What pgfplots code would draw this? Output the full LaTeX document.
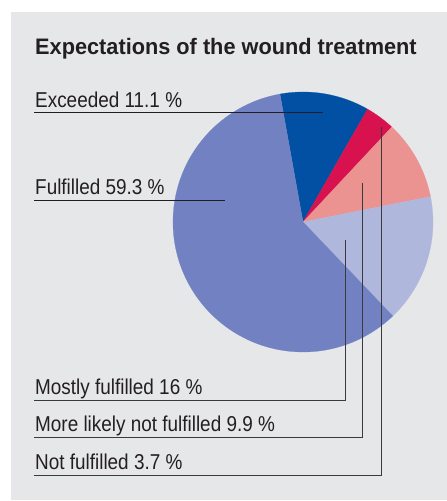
\documentclass[border=0pt]{standalone}
\usepackage{pgfplots}
\usepackage{pgfplotstable}
\pgfplotsset{compat=1.18}
\usepackage{fontspec}
\setmainfont{Liberation Sans}
\newfontfamily\labfont[FakeStretch=0.88]{Liberation Sans}
\newfontfamily\titfont[FakeStretch=0.97]{Liberation Sans}
\definecolor{bg}{HTML}{E6E7E9}
\definecolor{txt}{HTML}{231F20}
\definecolor{cExc}{HTML}{0250A3}
\definecolor{cNot}{HTML}{D8124F}
\definecolor{cMore}{HTML}{EB9390}
\definecolor{cMost}{HTML}{AFB7DD}
\definecolor{cFul}{HTML}{7181C1}
\definecolor{lead}{HTML}{3A3A3C}
\pgfplotstableread{
label value
Exceeded 11.1
Notfulfilled 3.7
Morelikelynot 9.9
Mostly 16
Fulfilled 59.3
}\piedata
\begin{document}%
\begin{tikzpicture}
\pgfplotstablegetelem{0}{value}\of\piedata\let\vA\pgfplotsretval
\pgfplotstablegetelem{1}{value}\of\piedata\let\vB\pgfplotsretval
\pgfplotstablegetelem{2}{value}\of\piedata\let\vC\pgfplotsretval
\pgfplotstablegetelem{3}{value}\of\piedata\let\vD\pgfplotsretval
\pgfplotstablegetelem{4}{value}\of\piedata\let\vE\pgfplotsretval
\pgfmathsetmacro\aO{100.2}
\pgfmathsetmacro\aA{\aO-3.6*\vA}
\pgfmathsetmacro\aB{\aA-3.6*\vB}
\pgfmathsetmacro\aC{\aB-3.6*\vC}
\pgfmathsetmacro\aD{\aC-3.6*\vD}
\pgfmathsetmacro\aE{\aD-3.6*\vE}
\begin{axis}[
  x=1pt, y=1pt, xmin=0, xmax=447, ymin=0, ymax=501,
  hide axis, clip=false, scale only axis, anchor=origin, at={(0,0)},
  every axis plot/.append style={line width=0.8pt}
]
\fill[white] (axis cs:0,0) rectangle (axis cs:447,501);
\fill[bg] (axis cs:11,1) rectangle (axis cs:447,489);
% pie slices
\addplot[fill=cExc, draw=cExc, line width=0.2pt, domain=\aA:\aO, samples=60, variable=\t]
  ({303+130*cos(\t)},{279+130*sin(\t)}) -- (axis cs:303,279) -- cycle;
\addplot[fill=cNot, draw=cNot, line width=0.2pt, domain=\aB:\aA, samples=30, variable=\t]
  ({303+130*cos(\t)},{279+130*sin(\t)}) -- (axis cs:303,279) -- cycle;
\addplot[fill=cMore, draw=cMore, line width=0.2pt, domain=\aC:\aB, samples=60, variable=\t]
  ({303+130*cos(\t)},{279+130*sin(\t)}) -- (axis cs:303,279) -- cycle;
\addplot[fill=cMost, draw=cMost, line width=0.2pt, domain=\aD:\aC, samples=80, variable=\t]
  ({303+130*cos(\t)},{279+130*sin(\t)}) -- (axis cs:303,279) -- cycle;
\addplot[fill=cFul, draw=cFul, line width=0.2pt, domain=\aE:\aD, samples=200, variable=\t]
  ({303+130*cos(\t)},{279+130*sin(\t)}) -- (axis cs:303,279) -- cycle;
% leader lines
\addplot[txt, line width=0.9pt] coordinates {(34,388.5) (323,388.5)};
\addplot[txt, line width=0.9pt] coordinates {(34,300.7) (225,300.7)};
\addplot[lead] coordinates {(34,101) (345.5,101) (345.5,261)};
\addplot[lead] coordinates {(34,63.3) (362.5,63.3) (362.5,317.7)};
\addplot[lead] coordinates {(34,25.3) (381.7,25.3) (381.7,373.7)};
% texts
\node[anchor=base west, inner sep=0, text=txt] at (axis cs:35,446)
  {\titfont\fontsize{22.4}{26}\bfseries Expectations of the wound treatment};
\node[anchor=base west, inner sep=0, text=txt] at (axis cs:35,393.3)
  {\labfont\fontsize{21.5}{24}\selectfont Exceeded 11.1 \%};
\node[anchor=base west, inner sep=0, text=txt] at (axis cs:35,306)
  {\labfont\fontsize{21.5}{24}\selectfont Fulfilled 59.3 \%};
\node[anchor=base west, inner sep=0, text=txt] at (axis cs:35,106)
  {\labfont\fontsize{21.5}{24}\selectfont Mostly fulfilled 16 \%};
\node[anchor=base west, inner sep=0, text=txt] at (axis cs:35,69.3)
  {\labfont\fontsize{21.5}{24}\selectfont More likely not fulfilled 9.9 \%};
\node[anchor=base west, inner sep=0, text=txt] at (axis cs:35,31.7)
  {\labfont\fontsize{21.5}{24}\selectfont Not fulfilled 3.7 \%};
\end{axis}
\pgfresetboundingbox
\useasboundingbox (0,0) rectangle (447pt,501pt);
\end{tikzpicture}%
\end{document}
